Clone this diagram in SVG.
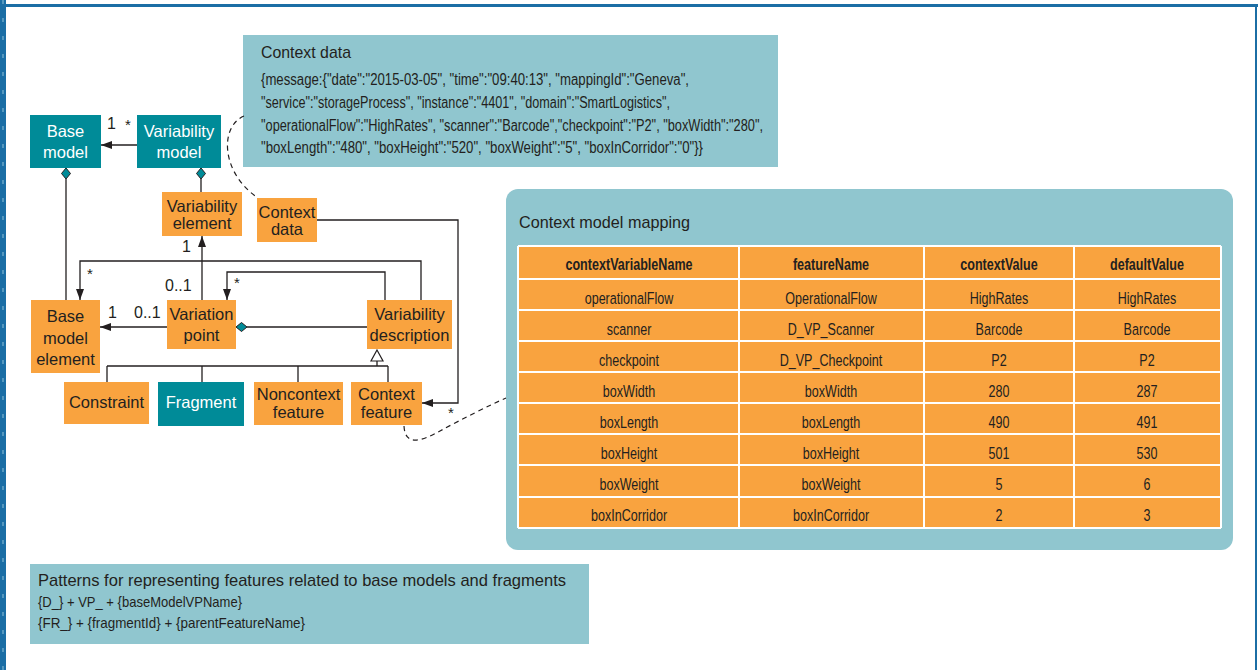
<svg xmlns="http://www.w3.org/2000/svg" width="1258" height="670" viewBox="0 0 1258 670">
<style>
.teal{fill:#008b98}
.org{fill:#f9a33f}
.lb{fill:#90c6cf}
.nt{font-family:"Liberation Sans",Arial,sans-serif;font-size:16.5px;text-anchor:middle;fill:#231f20}
.wt{font-family:"Liberation Sans",Arial,sans-serif;font-size:16.5px;text-anchor:middle;fill:#ffffff}
.lab{font-family:"Liberation Sans",Arial,sans-serif;font-size:16px;fill:#231f20}
.star{font-family:"Liberation Sans",Arial,sans-serif;font-size:15px;fill:#231f20}
.tx{font-family:"Liberation Sans",Arial,sans-serif;font-size:16px;fill:#231f20}
.tx2{font-family:"Liberation Sans",Arial,sans-serif;font-size:15px;fill:#231f20}
.ttl{font-family:"Liberation Sans",Arial,sans-serif;font-size:17px;fill:#231f20}
.th{font-family:"Liberation Sans",Arial,sans-serif;font-size:17px;font-weight:bold;text-anchor:middle;fill:#231f20}
.td{font-family:"Liberation Sans",Arial,sans-serif;font-size:17px;text-anchor:middle;fill:#231f20}
.ln{fill:none;stroke:#231f20;stroke-width:1.3}
.dash{fill:none;stroke:#231f20;stroke-width:1.2;stroke-dasharray:5,4}
.grid{stroke:#ffffff;stroke-width:2}
.dia{fill:#008b98;stroke:#231f20;stroke-width:1}
</style>
<defs>
<marker id="arr" markerWidth="11" markerHeight="8" refX="11" refY="4" orient="auto" markerUnits="userSpaceOnUse">
<path d="M0,0 L11,4 L0,8 z" fill="#231f20"/>
</marker>
</defs>

<!-- frame -->
<rect x="0" y="0" width="1258" height="670" fill="#ffffff"/>
<rect x="0" y="4" width="1258" height="3" fill="#1b6ea5"/>
<rect x="1255" y="4" width="2" height="666" fill="#1b6ea5"/>
<rect x="0" y="0" width="6" height="670" fill="#1b6ea5"/>
<line x1="3" y1="0" x2="3" y2="670" stroke="#6aa6c8" stroke-width="1.5" stroke-dasharray="4,14"/>

<!-- Context data box -->
<g id="context-data-box">
<rect x="243" y="35" width="535" height="132" class="lb"/>
<text x="261" y="58" class="ttl" textLength="90" lengthAdjust="spacingAndGlyphs">Context data</text>
<text x="261" y="85" class="tx" textLength="428" lengthAdjust="spacingAndGlyphs">{message:{"date":"2015-03-05", "time":"09:40:13", "mappingId":"Geneva",</text>
<text x="261" y="108" class="tx" textLength="409" lengthAdjust="spacingAndGlyphs">"service":"storageProcess", "instance":"4401", "domain":"SmartLogistics",</text>
<text x="261" y="131" class="tx" textLength="502" lengthAdjust="spacingAndGlyphs">"operationalFlow":"HighRates", "scanner":"Barcode","checkpoint":"P2", "boxWidth":"280",</text>
<text x="261" y="153" class="tx" textLength="442" lengthAdjust="spacingAndGlyphs">"boxLength":"480", "boxHeight":"520", "boxWeight":"5", "boxInCorridor":"0"}}</text>
</g>

<!-- Context model mapping -->
<g id="context-model-mapping">
<rect x="506" y="189" width="727" height="361" rx="12" class="lb"/>
<text x="519" y="228" class="ttl" textLength="171" lengthAdjust="spacingAndGlyphs">Context model mapping</text>
<rect x="518" y="246" width="703" height="282" class="org"/>
<g class="grid">
<line x1="518" y1="246" x2="1221" y2="246"/>
<line x1="518" y1="279" x2="1221" y2="279"/>
<line x1="518" y1="310" x2="1221" y2="310"/>
<line x1="518" y1="341" x2="1221" y2="341"/>
<line x1="518" y1="372" x2="1221" y2="372"/>
<line x1="518" y1="403" x2="1221" y2="403"/>
<line x1="518" y1="434" x2="1221" y2="434"/>
<line x1="518" y1="465" x2="1221" y2="465"/>
<line x1="518" y1="497" x2="1221" y2="497"/>
<line x1="518" y1="528" x2="1221" y2="528"/>
<line x1="518" y1="246" x2="518" y2="528"/>
<line x1="739" y1="246" x2="739" y2="528"/>
<line x1="924" y1="246" x2="924" y2="528"/>
<line x1="1074" y1="246" x2="1074" y2="528"/>
<line x1="1221" y1="246" x2="1221" y2="528"/>
</g>
<g transform="translate(629,0) scale(0.74,1)">
<text x="0" y="270" class="th">contextVariableName</text>
<text x="0" y="304" class="td">operationalFlow</text>
<text x="0" y="335" class="td">scanner</text>
<text x="0" y="366" class="td">checkpoint</text>
<text x="0" y="397" class="td">boxWidth</text>
<text x="0" y="428" class="td">boxLength</text>
<text x="0" y="459" class="td">boxHeight</text>
<text x="0" y="490" class="td">boxWeight</text>
<text x="0" y="521" class="td">boxInCorridor</text>
</g>
<g transform="translate(831,0) scale(0.74,1)">
<text x="0" y="270" class="th">featureName</text>
<text x="0" y="304" class="td">OperationalFlow</text>
<text x="0" y="335" class="td">D_VP_Scanner</text>
<text x="0" y="366" class="td">D_VP_Checkpoint</text>
<text x="0" y="397" class="td">boxWidth</text>
<text x="0" y="428" class="td">boxLength</text>
<text x="0" y="459" class="td">boxHeight</text>
<text x="0" y="490" class="td">boxWeight</text>
<text x="0" y="521" class="td">boxInCorridor</text>
</g>
<g transform="translate(999,0) scale(0.74,1)">
<text x="0" y="270" class="th">contextValue</text>
<text x="0" y="304" class="td">HighRates</text>
<text x="0" y="335" class="td">Barcode</text>
<text x="0" y="366" class="td">P2</text>
<text x="0" y="397" class="td">280</text>
<text x="0" y="428" class="td">490</text>
<text x="0" y="459" class="td">501</text>
<text x="0" y="490" class="td">5</text>
<text x="0" y="521" class="td">2</text>
</g>
<g transform="translate(1147,0) scale(0.74,1)">
<text x="0" y="270" class="th">defaultValue</text>
<text x="0" y="304" class="td">HighRates</text>
<text x="0" y="335" class="td">Barcode</text>
<text x="0" y="366" class="td">P2</text>
<text x="0" y="397" class="td">287</text>
<text x="0" y="428" class="td">491</text>
<text x="0" y="459" class="td">530</text>
<text x="0" y="490" class="td">6</text>
<text x="0" y="521" class="td">3</text>
</g>
</g>

<!-- Patterns box -->
<g id="patterns">
<rect x="30" y="564" width="559" height="80" class="lb"/>
<text x="38" y="586" class="ttl" textLength="528" lengthAdjust="spacingAndGlyphs">Patterns for representing features related to base models and fragments</text>
<text x="38" y="607" class="tx2" textLength="204" lengthAdjust="spacingAndGlyphs">{D_} + VP_ + {baseModelVPName}</text>
<text x="38" y="628" class="tx2" textLength="267" lengthAdjust="spacingAndGlyphs">{FR_} + {fragmentId} + {parentFeatureName}</text>
</g>

<!-- connectors -->
<g id="connectors">
<path class="ln" d="M137,145 L101,145" marker-end="url(#arr)"/>
<path class="ln" d="M66,179 L66,300"/>
<path class="ln" d="M201,179 L201,192"/>
<path class="ln" d="M202,300 L202,236" marker-end="url(#arr)"/>
<path class="ln" d="M167,327 L100,327" marker-end="url(#arr)"/>
<path class="ln" d="M421,300 L421,261 L80,261 L80,300" marker-end="url(#arr)"/>
<path class="ln" d="M385,300 L385,272 L227,272 L227,300" marker-end="url(#arr)"/>
<path class="ln" d="M367,327 L247,327"/>
<path class="ln" d="M377,361 L377,366"/>
<path class="ln" d="M107,366 L388,366"/>
<path class="ln" d="M107,366 L107,382"/>
<path class="ln" d="M202,366 L202,382"/>
<path class="ln" d="M298,366 L298,382"/>
<path class="ln" d="M388,366 L388,382"/>
<path class="ln" d="M317,220 L458,220 L458,403 L422,403" marker-end="url(#arr)"/>
<path class="dash" d="M244,116 C220,126 220,172 258,198"/>
<path class="dash" d="M404,426 C405,446 420,442 440,431 S490,405 506,398"/>
<polygon class="dia" points="66,168 70.5,173.5 66,179 61.5,173.5"/>
<polygon class="dia" points="201,168 205.5,173.5 201,179 196.5,173.5"/>
<polygon class="dia" points="236,327 241.5,322.5 247,327 241.5,331.5"/>
<polygon points="377,350 383,361 371,361" fill="#ffffff" stroke="#231f20" stroke-width="1.2"/>
<text x="107" y="129" class="lab" font-size="18">1</text>
<text x="125" y="130" class="star">*</text>
<text x="182" y="252" class="lab" font-size="17">1</text>
<text x="165" y="291" class="lab" font-size="17">0..1</text>
<text x="108" y="318" class="lab" font-size="17">1</text>
<text x="134" y="318" class="lab" font-size="17">0..1</text>
<text x="87" y="279" class="star">*</text>
<text x="234" y="288" class="star">*</text>
<text x="448" y="418" class="star">*</text>
</g>

<!-- nodes -->
<g id="base-model">
<rect x="30" y="115" width="71" height="53" class="teal"/>
<text x="65.5" y="137" class="wt">Base</text>
<text x="65.5" y="158" class="wt">model</text>
</g>
<g id="variability-model">
<rect x="137" y="115" width="84" height="53" class="teal"/>
<text x="179" y="137" class="wt">Variability</text>
<text x="179" y="158" class="wt">model</text>
</g>
<g id="variability-element">
<rect x="162" y="192" width="80" height="44" class="org"/>
<text x="202" y="212" class="nt">Variability</text>
<text x="202" y="229" class="nt">element</text>
</g>
<g id="context-data">
<rect x="257" y="198" width="60" height="44" class="org"/>
<text x="287" y="218" class="nt">Context</text>
<text x="287" y="235" class="nt">data</text>
</g>
<g id="base-model-element">
<rect x="31" y="300" width="69" height="73" class="org"/>
<text x="65.5" y="322" class="nt">Base</text>
<text x="65.5" y="344" class="nt">model</text>
<text x="65.5" y="365" class="nt">element</text>
</g>
<g id="variation-point">
<rect x="167" y="300" width="69" height="49" class="org"/>
<text x="201.5" y="320" class="nt">Variation</text>
<text x="201.5" y="341" class="nt">point</text>
</g>
<g id="variability-description">
<rect x="367" y="300" width="85" height="49" class="org"/>
<text x="409.5" y="320" class="nt">Variability</text>
<text x="409.5" y="341" class="nt">description</text>
</g>
<g id="constraint">
<rect x="64" y="382" width="85" height="42" class="org"/>
<text x="106.5" y="408" class="nt">Constraint</text>
</g>
<g id="fragment">
<rect x="158" y="382" width="86" height="44" class="teal"/>
<text x="201" y="408" class="wt">Fragment</text>
</g>
<g id="noncontext-feature">
<rect x="254" y="382" width="89" height="43" class="org"/>
<text x="298.5" y="400" class="nt">Noncontext</text>
<text x="298.5" y="418" class="nt">feature</text>
</g>
<g id="context-feature">
<rect x="351" y="382" width="71" height="43" class="org"/>
<text x="386.5" y="400" class="nt">Context</text>
<text x="386.5" y="418" class="nt">feature</text>
</g>
</svg>
